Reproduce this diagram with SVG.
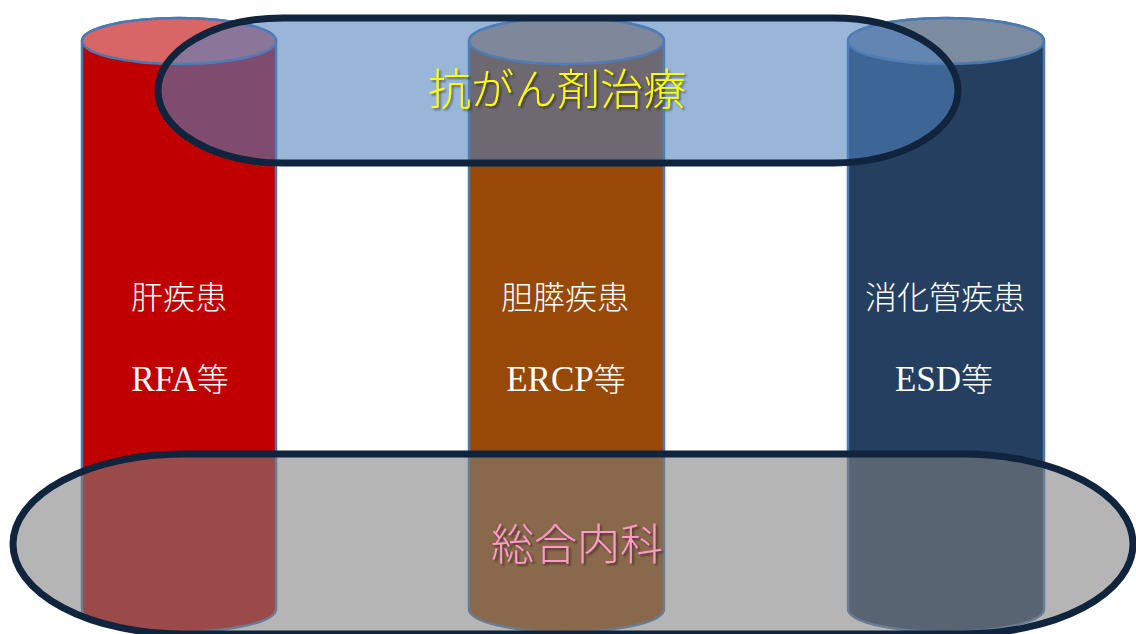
<svg xmlns="http://www.w3.org/2000/svg" width="1136" height="634" viewBox="0 0 1136 634">
<defs>
<style>
.cyl-stroke{stroke:#4a78b0;stroke-width:2.5}
.lbl{font-family:"Liberation Serif","Noto Sans CJK JP",serif;font-size:32px;fill:#ffffff;text-anchor:middle;font-weight:300}
.lat{font-size:35px;font-weight:400}
.big{font-family:"Noto Sans CJK JP",sans-serif;font-size:43px;text-anchor:middle;font-weight:300}
.pill{stroke:#10243e;stroke-width:7}
</style>
<filter id="sh" x="-10%" y="-20%" width="120%" height="150%">
<feDropShadow dx="2" dy="2" stdDeviation="1.2" flood-color="#000" flood-opacity="0.45"/>
</filter>
</defs>
<rect width="1136" height="634" fill="#ffffff"/>
<g id="cyl-liver">
<path class="cyl-stroke" fill="#c00000" d="M82,41 L82,609 A97,23 0 0 0 276,609 L276,41 A97,23 0 0 0 82,41 Z"/>
<ellipse class="cyl-stroke" cx="179" cy="41" rx="97" ry="23" fill="#d96666"/>
<text class="lbl" x="179" y="309">肝疾患</text>
<text class="lbl" x="180" y="391"><tspan class="lat">RFA</tspan>等</text>
</g>
<g id="cyl-biliary">
<path class="cyl-stroke" fill="#984807" d="M469,41 L469,609 A97.5,23 0 0 0 664,609 L664,41 A97.5,23 0 0 0 469,41 Z"/>
<ellipse class="cyl-stroke" cx="566.5" cy="41" rx="97.5" ry="23" fill="#c1916a"/>
<text class="lbl" x="565" y="309">胆膵疾患</text>
<text class="lbl" x="566" y="391"><tspan class="lat">ERCP</tspan>等</text>
</g>
<g id="cyl-gi">
<path class="cyl-stroke" fill="#243f60" d="M848,41 L848,609 A98,23 0 0 0 1044,609 L1044,41 A98,23 0 0 0 848,41 Z"/>
<ellipse class="cyl-stroke" cx="946" cy="41" rx="98" ry="23" fill="#7c8ca0"/>
<text class="lbl" x="945" y="309">消化管疾患</text>
<text class="lbl" x="944" y="391"><tspan class="lat">ESD</tspan>等</text>
</g>
<g id="chemo">
<rect class="pill" x="158" y="18" width="800" height="145" rx="125" ry="72.5" fill="#4f81bd" fill-opacity="0.58"/>
<text class="big" x="557" y="105" fill="#ffff00" filter="url(#sh)">抗がん剤治療</text>
</g>
<g id="general">
<rect class="pill" x="13" y="454" width="1120" height="180" rx="170" ry="90" fill="#7f7f7f" fill-opacity="0.58"/>
<text class="big" x="577" y="560" fill="#ff99cc" filter="url(#sh)">総合内科</text>
</g>
<g id="connectors"/>
</svg>
